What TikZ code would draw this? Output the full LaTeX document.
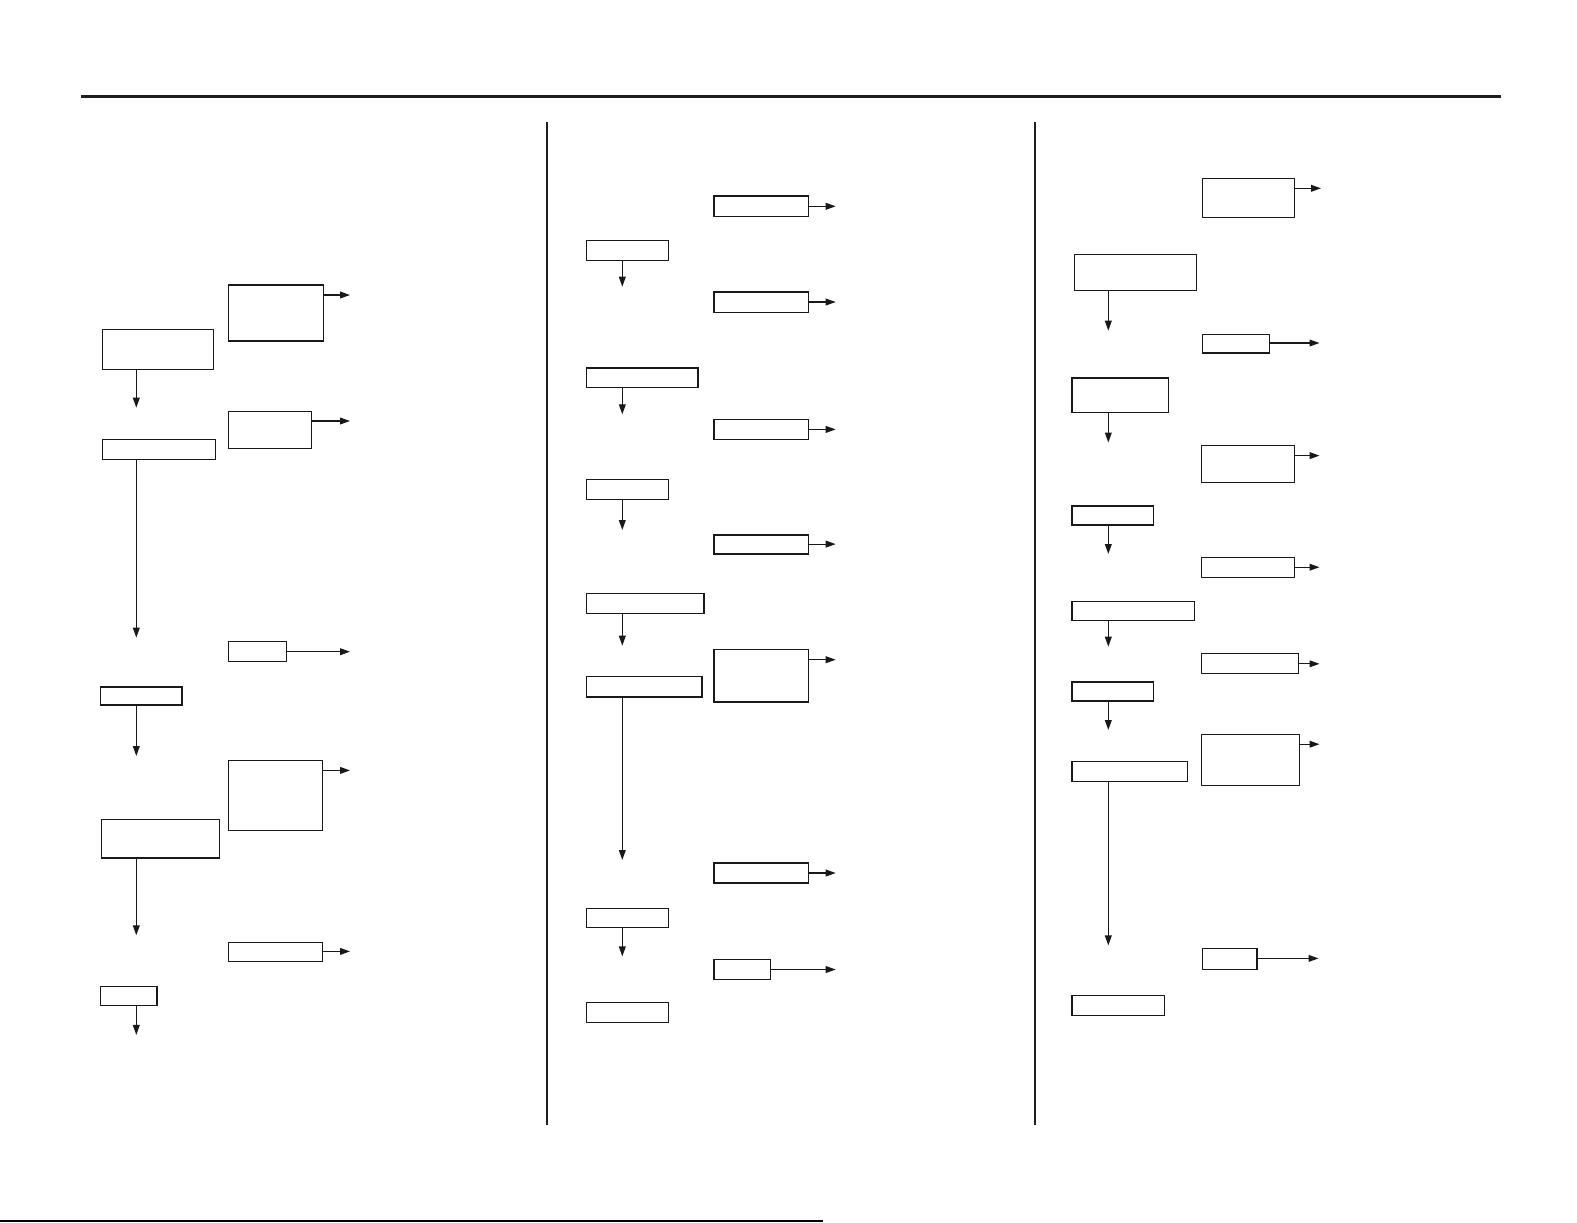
\documentclass[tikz,border=0pt]{standalone}
\usetikzlibrary{arrows.meta,fit}
\begin{document}
\begin{tikzpicture}[x=0.5pt,y=-0.5pt,
  box/.style={draw=black!90,line width=0.65pt,inner sep=0pt,rectangle},
  arr/.style={draw=black!90,line width=0.6pt,-{Triangle[length=5pt,width=3.4pt]}},
  rule/.style={draw=black!88,line width=1.5pt},
  divider/.style={draw=black!88,line width=1pt}]
\useasboundingbox (0,0) rectangle (1577,1222);
\newcommand{\bx}[5]{\node[box,fit={(#2,#3)(#4,#5)}] (#1) {};}
% top rule and dividers
\coordinate (rl) at (81,96); \coordinate (rr) at (1501,96);
\draw[rule] (rl) -- (rr);
\coordinate (d1t) at (547,122); \coordinate (d1b) at (547,1125);
\draw[divider] (d1t) -- (d1b);
\coordinate (d2t) at (1035,122); \coordinate (d2b) at (1035,1125);
\draw[divider] (d2t) -- (d2b);
\coordinate (bl) at (0,1221); \coordinate (br) at (823,1221);
\draw[line width=0.6pt] (bl) -- (br);
% ---------- column 1 ----------
\bx{A}{228.3}{285}{323.3}{341}
\coordinate (ta) at (350,295); \draw[arr] (A.east |- ta) -- (ta);
\bx{B}{102.3}{329.3}{213.7}{369.3}
\coordinate (tb) at (136.3,407.7); \draw[arr] (B.south -| tb) -- (tb);
\bx{C}{228.3}{411.3}{311.3}{448.3}
\coordinate (tc) at (350,421); \draw[arr] (C.east |- tc) -- (tc);
\bx{D}{102.3}{439.3}{215.3}{459.3}
\coordinate (td) at (136.3,637.6); \draw[arr] (D.south -| td) -- (td);
\bx{E}{228.3}{641.6}{286.6}{661.8}
\coordinate (te) at (350,651.7); \draw[arr] (E.east |- te) -- (te);
\bx{F}{100.6}{686.9}{182}{705}
\coordinate (tf) at (136.3,756); \draw[arr] (F.south -| tf) -- (tf);
\bx{G}{228.3}{760.3}{322.8}{830.7}
\coordinate (tg) at (350,770.4); \draw[arr] (G.east |- tg) -- (tg);
\bx{H}{101.6}{819.6}{219.2}{857.9}
\coordinate (th) at (136.3,935.3); \draw[arr] (H.south -| th) -- (th);
\bx{I}{228.3}{942.3}{322.8}{961.4}
\coordinate (ti) at (350,951.4); \draw[arr] (I.east |- ti) -- (ti);
\bx{J}{100.6}{986.6}{156.9}{1005.7}
\coordinate (tj) at (136.3,1034.9); \draw[arr] (J.south -| tj) -- (tj);
% ---------- column 2 ----------
\bx{K}{714}{196}{808.7}{216.3}
\coordinate (tk) at (835.7,206.3); \draw[arr] (K.east |- tk) -- (tk);
\bx{L}{586.3}{240.3}{668.7}{260.3}
\coordinate (tl) at (622.3,286.7); \draw[arr] (L.south -| tl) -- (tl);
\bx{M}{714}{292}{808.7}{312.3}
\coordinate (tm) at (835.7,302); \draw[arr] (M.east |- tm) -- (tm);
\bx{N}{586.3}{368.1}{698}{387.2}
\coordinate (tn) at (622.3,414.3); \draw[arr] (N.south -| tn) -- (tn);
\bx{O}{714}{419.4}{808.7}{439.5}
\coordinate (to) at (835.7,429.4); \draw[arr] (O.east |- to) -- (to);
\bx{P}{586.3}{479.7}{668.7}{499.8}
\coordinate (tp) at (622.3,530); \draw[arr] (P.south -| tp) -- (tp);
\bx{Q}{714}{535}{808.7}{554.1}
\coordinate (tq) at (835.7,544.1); \draw[arr] (Q.east |- tq) -- (tq);
\bx{R}{586.3}{593.4}{704}{613.5}
\coordinate (tr) at (622.3,645.7); \draw[arr] (R.south -| tr) -- (tr);
\bx{S}{714}{649.7}{808.7}{702}
\coordinate (ts) at (835.7,659.7); \draw[arr] (S.east |- ts) -- (ts);
\bx{T}{586.3}{676.8}{702}{697}
\coordinate (tt) at (622.3,860); \draw[arr] (T.south -| tt) -- (tt);
\bx{U}{714}{862.9}{808.7}{883}
\coordinate (tu) at (835.7,873); \draw[arr] (U.east |- tu) -- (tu);
\bx{V}{586.3}{908.2}{668.7}{927.3}
\coordinate (tv) at (622.3,956.4); \draw[arr] (V.south -| tv) -- (tv);
\bx{W}{714}{959.4}{770.4}{979.6}
\coordinate (tw) at (835.7,969.5); \draw[arr] (W.east |- tw) -- (tw);
\bx{X}{586.3}{1002.7}{668.7}{1022.8}
% ---------- column 3 ----------
\bx{Y}{1202.3}{178.3}{1294.7}{217.3}
\coordinate (ty) at (1321,188.3); \draw[arr] (Y.east |- ty) -- (ty);
\bx{Z}{1074.3}{254.3}{1196.7}{290.3}
\coordinate (tz) at (1108.3,330.7); \draw[arr] (Z.south -| tz) -- (tz);
\bx{C1}{1202.3}{334.3}{1269.3}{353}
\coordinate (tc1) at (1319.5,343); \draw[arr] (C1.east |- tc1) -- (tc1);
\bx{C2}{1072}{378}{1168.6}{412.3}
\coordinate (tc2) at (1108.3,442.5); \draw[arr] (C2.south -| tc2) -- (tc2);
\bx{C3}{1201.8}{445.5}{1294.3}{482.7}
\coordinate (tc3) at (1319.5,455.6); \draw[arr] (C3.east |- tc3) -- (tc3);
\bx{C4}{1072}{505.9}{1153.5}{525}
\coordinate (tc4) at (1108.3,554); \draw[arr] (C4.south -| tc4) -- (tc4);
\bx{C5}{1201.8}{557.2}{1294.3}{577.3}
\coordinate (tc5) at (1319.5,567.2); \draw[arr] (C5.east |- tc5) -- (tc5);
\bx{C6}{1072}{601.4}{1194.8}{620.5}
\coordinate (tc6) at (1108.3,646.7); \draw[arr] (C6.south -| tc6) -- (tc6);
\bx{C7}{1201.8}{653.7}{1298.3}{673.8}
\coordinate (tc7) at (1319.5,663.8); \draw[arr] (C7.east |- tc7) -- (tc7);
\bx{C8}{1072}{681.9}{1153.5}{701}
\coordinate (tc8) at (1108.3,730); \draw[arr] (C8.south -| tc8) -- (tc8);
\bx{C9}{1201.8}{734.2}{1299.4}{785.5}
\coordinate (tc9) at (1319.5,744.2); \draw[arr] (C9.east |- tc9) -- (tc9);
\bx{C10}{1072}{761.3}{1187.8}{781.4}
\coordinate (tc10) at (1108.3,945.4); \draw[arr] (C10.south -| tc10) -- (tc10);
\bx{C11}{1202.8}{948.4}{1257.1}{969.5}
\coordinate (tc11) at (1318.5,958.4); \draw[arr] (C11.east |- tc11) -- (tc11);
\bx{C12}{1072}{995.6}{1164.6}{1015.8}
\end{tikzpicture}
\end{document}
